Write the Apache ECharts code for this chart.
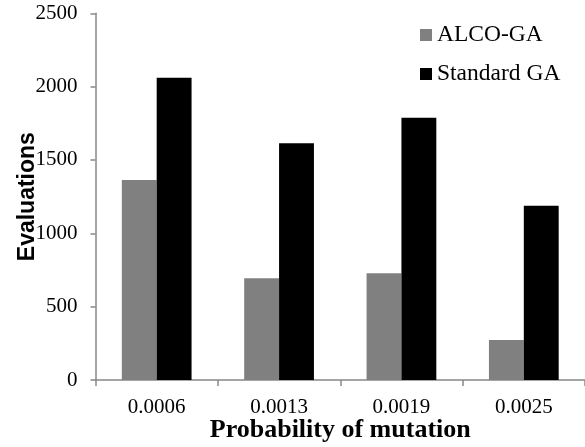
<!DOCTYPE html>
<html>
<head>
<meta charset="utf-8">
<script src="https://cdn.jsdelivr.net/npm/echarts@6/dist/echarts.min.js"></script>
<style>
html,body{margin:0;padding:0;background:#fff;}
#c{width:585px;height:447px;}
</style>
</head>
<body>
<div id="c"></div>
<script>
var categories = ['0.0006', '0.0013', '0.0019', '0.0025'];
var alcoGA = [1363, 693, 727, 273];
var standardGA = [2061, 1614, 1788, 1188];
var yTicks = [0, 500, 1000, 1500, 2000, 2500];

var serif = '"Liberation Serif", "Times New Roman", serif';
var chart = echarts.init(document.getElementById('c'), null, {renderer: 'canvas'});
chart.setOption({
  animation: false,
  backgroundColor: '#ffffff',
  grid: {left: 95.5, right: 0, top: 13.3, bottom: 67, containLabel: false, outerBoundsMode: 'none'},
  legend: [
    {
      data: ['ALCO-GA'], left: 420, top: 23, padding: 0,
      itemWidth: 12, itemHeight: 12, icon: 'rect', itemGap: 0,
      textStyle: {fontFamily: serif, fontSize: 23.5, color: '#000'}
    },
    {
      data: ['Standard GA'], left: 420, top: 62, padding: 0,
      itemWidth: 12, itemHeight: 12, icon: 'rect', itemGap: 0,
      textStyle: {fontFamily: serif, fontSize: 23.5, color: '#000'}
    }
  ],
  xAxis: {
    type: 'category',
    data: categories,
    name: 'Probability of mutation',
    nameLocation: 'middle',
    nameGap: 37,
    nameMoveOverlap: false,
    nameTextStyle: {fontFamily: serif, fontSize: 26, fontWeight: 'bold', color: '#000'},
    axisLine: {lineStyle: {color: '#888888', width: 1.5}},
    axisTick: {show: true, length: 6, lineStyle: {color: '#888888', width: 1.5}},
    axisLabel: {fontFamily: serif, fontSize: 21, color: '#000', margin: 17}
  },
  yAxis: {
    type: 'value',
    min: 0, max: 2500, interval: 500,
    name: 'Evaluations',
    nameLocation: 'middle',
    nameGap: 56,
    nameMoveOverlap: false,
    nameTextStyle: {fontFamily: '"Liberation Sans", Arial, sans-serif', fontSize: 23, fontWeight: 'bold', color: '#000'},
    axisLine: {show: true, lineStyle: {color: '#888888', width: 1.5}},
    axisTick: {show: true, length: 5, lineStyle: {color: '#888888', width: 1.5}},
    splitLine: {show: false},
    axisLabel: {fontFamily: serif, fontSize: 21, color: '#000', margin: 18,
      formatter: function (v) { return yTicks.indexOf(v) >= 0 ? String(v) : ''; }}
  },
  series: [
    {name: 'ALCO-GA', type: 'bar', data: alcoGA, barGap: '0%', barCategoryGap: '43%',
      itemStyle: {color: '#808080'}},
    {name: 'Standard GA', type: 'bar', data: standardGA, barGap: '0%', barCategoryGap: '43%',
      itemStyle: {color: '#000000'}}
  ]
});
</script>
</body>
</html>
